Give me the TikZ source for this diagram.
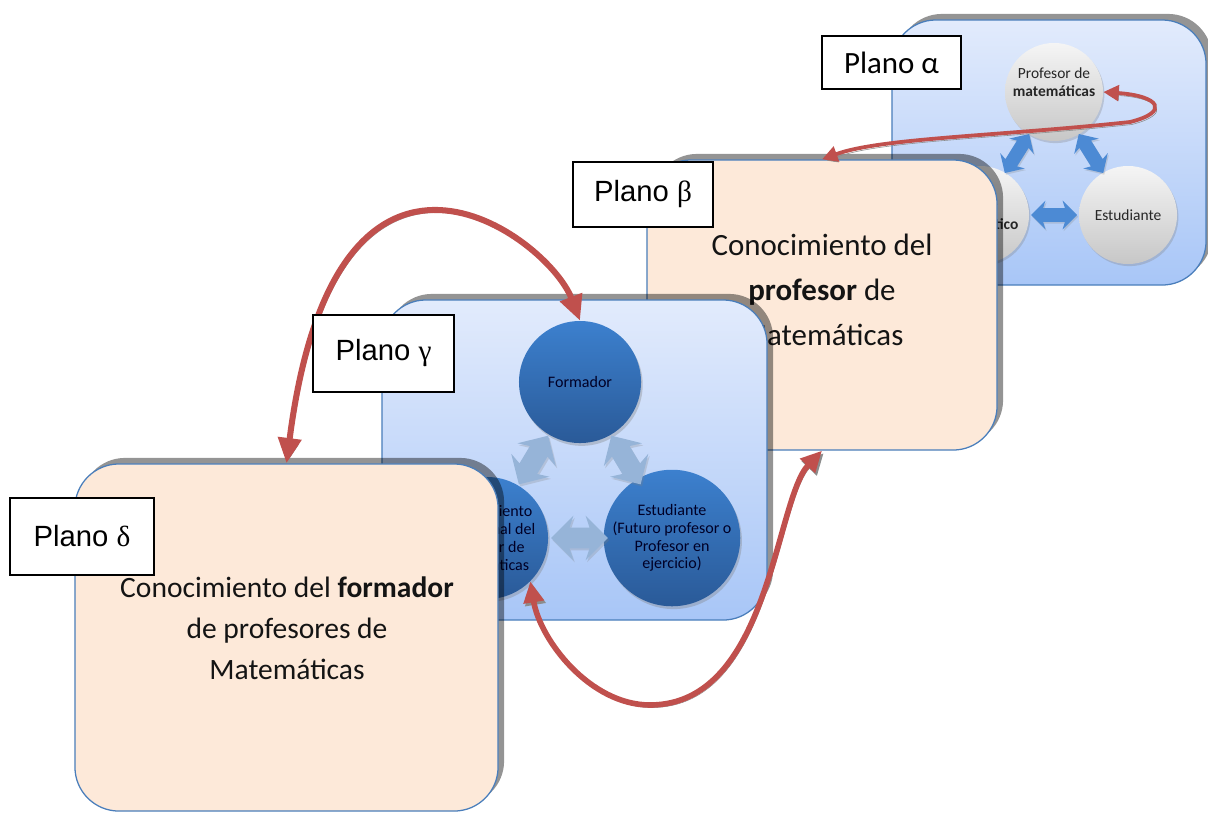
\documentclass[tikz,border=0pt]{standalone}
\usepackage{fontspec}
\setmainfont{Carlito}
\newfontfamily\planofont{Liberation Sans}
\newfontfamily\griegofont{Liberation Serif}
\usetikzlibrary{shapes.arrows,shadows,arrows.meta,calc}

\definecolor{azultop}{RGB}{226,235,252}
\definecolor{azulbot}{RGB}{168,198,247}
\definecolor{borde}{RGB}{74,126,187}
\definecolor{durazno}{RGB}{253,233,217}
\definecolor{rojo}{RGB}{192,80,77}
\definecolor{bolatop}{RGB}{60,128,206}
\definecolor{bolabot}{RGB}{42,90,152}
\definecolor{flechaclara}{RGB}{150,180,216}
\definecolor{flechaazul}{RGB}{76,138,212}

\tikzset{
  plano/.style={rectangle, rounded corners=1.1cm, draw=borde, line width=0.9pt, inner sep=0pt,
    drop shadow={shadow xshift=4.3pt, shadow yshift=4.3pt, fill=black, opacity=.42}},
  planoazul/.style={plano, top color=azultop, bottom color=azulbot},
  planodurazno/.style={plano, fill=durazno},
  etiqueta/.style={draw=black, line width=0.8pt, fill=white, inner sep=0pt,
    font=\planofont\fontsize{20.8}{25}\selectfont},
  textoplano/.style={align=center, text=black!92},
  bolagris/.style={circle, minimum size=2.45cm, inner sep=0pt, align=center,
    top color=white!96!black, bottom color=black!22, text=black!85,
    font=\fontsize{11}{13}\selectfont,
    drop shadow={shadow xshift=1pt, shadow yshift=-1.5pt, opacity=.3}},
  bolaazul/.style={circle, minimum size=3.05cm, inner sep=0pt, align=center,
    top color=bolatop, bottom color=bolabot, text=black!85!blue,
    font=\fontsize{11.4}{12.6}\selectfont,
    drop shadow={shadow xshift=1.2pt, shadow yshift=-2pt, opacity=.35}},
  dobleazul/.style={double arrow, fill=flechaazul, minimum height=1.15cm,
    inner xsep=0pt, inner ysep=0.165cm, double arrow head extend=0.19cm,
    double arrow head indent=0.06cm,
    drop shadow={shadow xshift=0.8pt, shadow yshift=-1.2pt, opacity=.25}},
  dobleclara/.style={double arrow, fill=flechaclara, minimum height=1.42cm,
    inner xsep=0pt, inner ysep=0.25cm, double arrow head extend=0.3cm,
    double arrow head indent=0.1cm,
    drop shadow={shadow xshift=1pt, shadow yshift=-1.5pt, opacity=.25}},
  relacion/.style={draw=rojo, line width=4.3pt,
    preaction={draw=black!45, transform canvas={xshift=1.2pt, yshift=-1.8pt}}},
}

\begin{document}
\begin{tikzpicture}[x=0.025cm, y=-0.025cm]
\useasboundingbox (0,0) rectangle (1208,812);

% plano alfa
\node[planoazul, minimum width=7.85cm, minimum height=6.625cm] (alfa) at (1049,152.5) {};
\node[bolagris, text depth=0.48cm] (prof) at (1054,92) {Profesor de\\\textbf{matemáticas}};
\node[bolagris] (saber) at (980,215) {Saber\\\textbf{matemático}};
\node[bolagris] (estud) at (1128,215) {Estudiante};
\node[dobleazul, rotate=58] (a1) at ($(prof)!0.5!(saber)$) {};
\node[dobleazul, rotate=122] (a2) at ($(prof)!0.5!(estud)$) {};
\node[dobleazul] (a3) at ($(saber)!0.5!(estud)$) {};

% plano beta
\node[planodurazno, minimum width=8.75cm, minimum height=7.25cm] (beta) at (822,305) {};
\node[textoplano, font=\fontsize{22}{32}\selectfont] (tbeta) at (822,290)
  {Conocimiento del\\\textbf{profesor} de\\Matemáticas};

% plano gamma
\node[planoazul, minimum width=9.625cm, minimum height=8cm] (gamma) at (574.5,460) {};
\node[bolaazul] (formador) at (580,382) {Formador};
\node[bolaazul] (kform) at (487,538) {Conocimiento\\profesional del\\profesor de\\Matemáticas};
\node[bolaazul] (estfut) at (672,538) {Estudiante\\(Futuro profesor o\\Profesor en\\ejercicio)};
\node[dobleclara, rotate=59] (g1) at ($(formador)!0.5!(kform)$) {};
\node[dobleclara, rotate=121] (g2) at ($(formador)!0.5!(estfut)$) {};
\node[dobleclara] (g3) at ($(kform)!0.5!(estfut)$) {};

% plano delta
\node[planodurazno, minimum width=10.575cm, minimum height=8.675cm] (delta) at (286.5,637.5) {};
\node[textoplano, font=\fontsize{21}{29}\selectfont] (tdelta) at (287,628)
  {Conocimiento del \textbf{formador}\\de profesores de\\Matemáticas};

% relaciones entre planos
\draw[relacion, line width=2.7pt, {Triangle[width=11pt,length=11pt]}-{Triangle[width=11pt,length=11pt]}]
  (beta.north) .. controls (880,138) and (1000,136) .. (1130,122)
  .. controls (1170,112) and (1160,96) .. (prof.east);
\draw[relacion, {Triangle[width=16pt,length=18pt]}-{Triangle[width=16pt,length=18pt]}]
  (delta.north) .. controls (336,77) and (548,237) .. (formador.north);
\draw[relacion, line width=4pt, {Triangle[width=14pt,length=15pt]}-{Triangle[width=14pt,length=15pt]}]
  (kform.-45) .. controls (540,640) and (590,705) .. (650,705)
  .. controls (770,705) and (775,500) .. (beta.south);

% etiquetas
\node[etiqueta, minimum width=3.475cm, minimum height=1.325cm, font=\fontsize{22}{26}\selectfont] (lalfa) at (891.5,62.5) {Plano α};
\node[etiqueta, minimum width=3.5cm, minimum height=1.625cm] (lbeta) at (643,194.5) {Plano {\griegofont β}};
\node[etiqueta, minimum width=3.525cm, minimum height=1.925cm] (lgamma) at (383.5,353.5) {Plano {\griegofont γ}};
\node[etiqueta, minimum width=3.6cm, minimum height=1.925cm] (ldelta) at (82,536.5) {Plano {\griegofont δ}};
\end{tikzpicture}
\end{document}
